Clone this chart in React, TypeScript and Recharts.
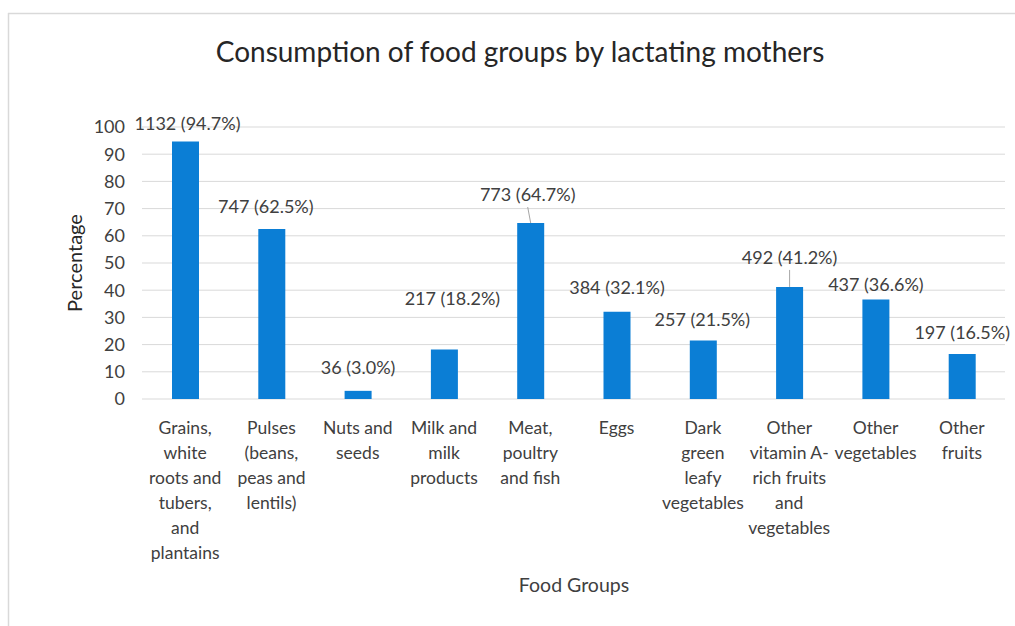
import React from "react";
import { BarChart, Bar, XAxis, YAxis, CartesianGrid } from "recharts";

const categories = [
  "Grains, white roots and tubers, and plantains",
  "Pulses (beans, peas and lentils)",
  "Nuts and seeds",
  "Milk and milk products",
  "Meat, poultry and fish",
  "Eggs",
  "Dark green leafy vegetables",
  "Other vitamin A-rich fruits and vegetables",
  "Other vegetables",
  "Other fruits",
];
const categoryLines = [
  ["Grains,", "white", "roots and", "tubers,", "and", "plantains"],
  ["Pulses", "(beans,", "peas and", "lentils)"],
  ["Nuts and", "seeds"],
  ["Milk and", "milk", "products"],
  ["Meat,", "poultry", "and fish"],
  ["Eggs"],
  ["Dark", "green", "leafy", "vegetables"],
  ["Other", "vitamin A-", "rich fruits", "and", "vegetables"],
  ["Other", "vegetables"],
  ["Other", "fruits"],
];
const percentages = [94.7, 62.5, 3.0, 18.2, 64.7, 32.1, 21.5, 41.2, 36.6, 16.5];
const counts = [1132, 747, 36, 217, 773, 384, 257, 492, 437, 197];
const yTicks = [0, 10, 20, 30, 40, 50, 60, 70, 80, 90, 100];

// label placement (layout only)
const labelDx = [2, -6, 0, 8, -3, 0, -1, 0, 0, 0];
const labelRise = [17, 22, 23, 50, 28, 24, 21, 29, 14, 21];
const labelLeader = [false, false, false, false, true, false, false, true, false, false];

const data = categories.map((c, i) => ({ name: c, value: percentages[i], count: counts[i] }));

const FONT = "Lato, 'Open Sans', sans-serif";
const TEXT = "#404040";

const CategoryTick = (props: any) => {
  const { x, y, index } = props;
  const lines = categoryLines[index] || [];
  return (
    <text x={x} y={y} textAnchor="middle" fill={TEXT} fontFamily={FONT} fontSize={17.5}>
      {lines.map((l, i) => (
        <tspan key={i} x={x} dy={i === 0 ? 33 : 25}>
          {l}
        </tspan>
      ))}
    </text>
  );
};

const renderLabel = (props: any) => {
  const { x, y, width, index } = props;
  const cx = x + width / 2;
  const ty = y - labelRise[index];
  const lx = cx + labelDx[index];
  const pct = percentages[index].toFixed(1);
  return (
    <g key={`lbl-${index}`}>
      {labelLeader[index] && (
        <line x1={lx} y1={ty + 12} x2={cx} y2={y} stroke="#a6a6a6" strokeWidth={1} />
      )}
      <text x={lx} y={ty + 6} textAnchor="middle" fill={TEXT} fontFamily={FONT} fontSize={18}>
        {`${counts[index]} (${pct}%)`}
      </text>
    </g>
  );
};

export default function App() {
  return (
    <div style={{ position: "absolute", left: 0, top: 0, width: 1015, height: 626, background: "#fff" }}>
      <BarChart
        width={1015}
        height={626}
        data={data}
        margin={{ top: 127, right: 10, bottom: 0, left: 102 }}
        barCategoryGap={0}
      >
        <CartesianGrid vertical={false} stroke="#d9d9d9" />
        <XAxis
          dataKey="name"
          axisLine={false}
          tickLine={false}
          interval={0}
          height={227}
          tick={<CategoryTick />}
          tickSize={0}
        />
        <YAxis
          width={40}
          domain={[0, 100]}
          ticks={yTicks}
          axisLine={false}
          tickLine={false}
          tickSize={0}
          tickMargin={17}
          tick={{ fill: TEXT, fontFamily: FONT, fontSize: 18 }}
        />
        <Bar dataKey="value" fill="#0B7ED5" barSize={27} isAnimationActive={false} label={renderLabel} />
      </BarChart>
      <svg
        width={1015}
        height={626}
        style={{ position: "absolute", left: 0, top: 0, pointerEvents: "none" }}
      >
        <line x1={8.5} y1={13} x2={8.5} y2={626} stroke="#d9d9d9" strokeWidth={1.5} />
        <line x1={8} y1={13.5} x2={1015} y2={13.5} stroke="#d9d9d9" strokeWidth={1.5} />
        <text x={520} y={62} textAnchor="middle" fill="#262626" fontFamily={FONT} fontSize={28}>
          Consumption of food groups by lactating mothers
        </text>
        <text
          x={82}
          y={263}
          textAnchor="middle"
          fill="#262626"
          fontFamily={FONT}
          fontSize={20}
          transform="rotate(-90 82 263)"
        >
          Percentage
        </text>
        <text x={574} y={592} textAnchor="middle" fill={TEXT} fontFamily={FONT} fontSize={19.5}>
          Food Groups
        </text>
      </svg>
    </div>
  );
}
